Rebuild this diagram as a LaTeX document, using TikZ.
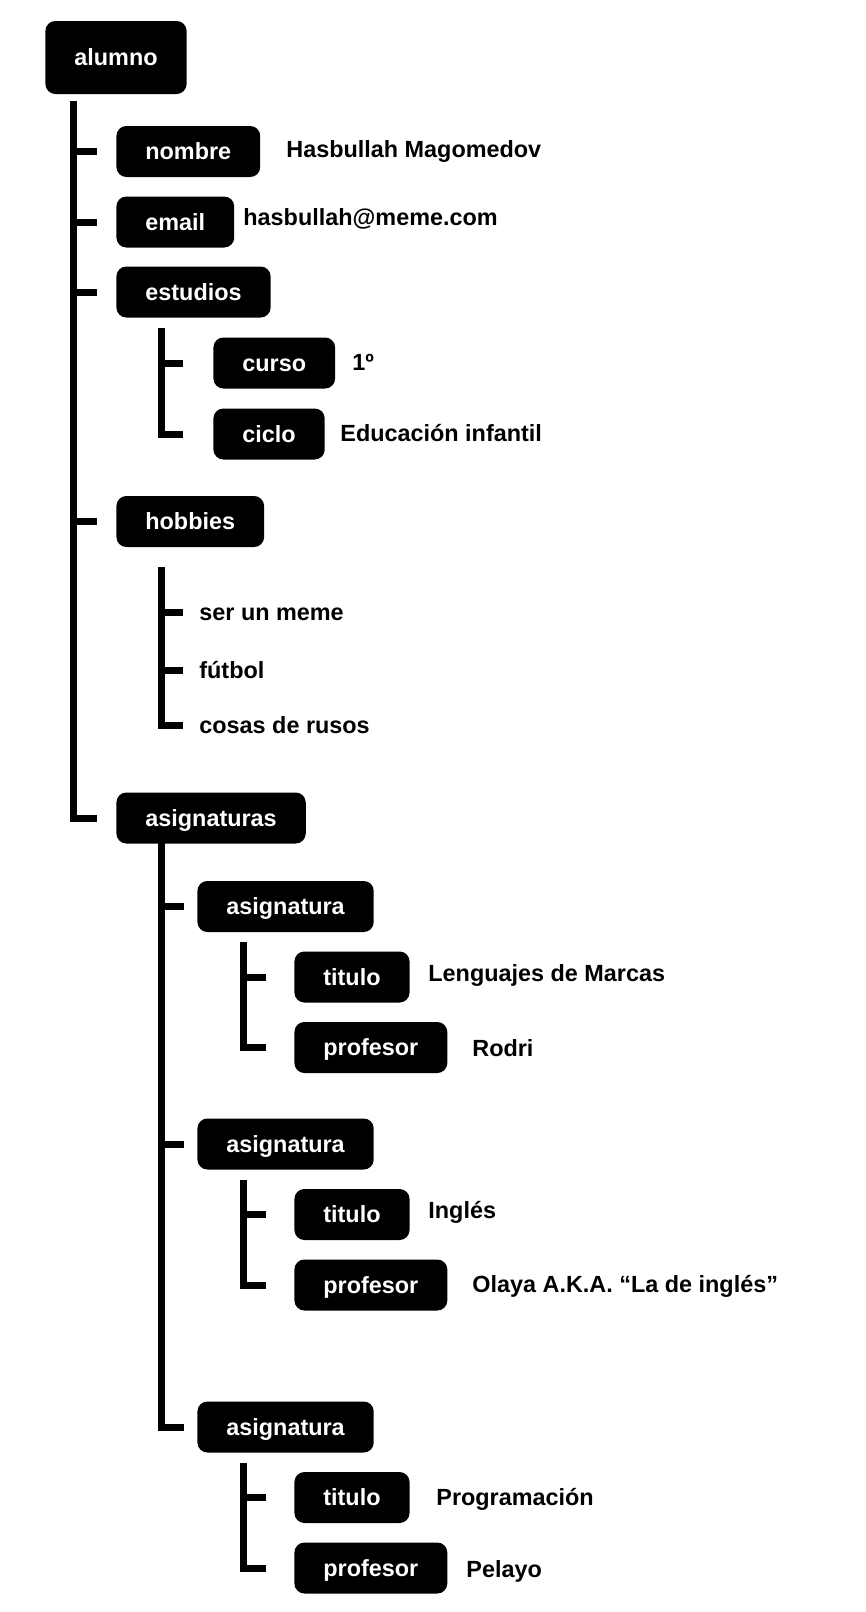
\documentclass[tikz,border=0pt]{standalone}
\usepackage{fontspec}
\setmainfont{Liberation Sans}
\tikzset{
    ET/.style ={rectangle, rounded corners=5pt, fill=black, text=white, font=\bfseries\fontsize{11.7}{14}\selectfont,
        minimum height=25.5pt, inner xsep=14.5pt, inner ysep=0pt, text height=8.4pt, text depth=0pt, anchor=west},
    VL/.style ={font=\bfseries\fontsize{11.7}{14}\selectfont, inner sep=0pt, text height=8.4pt, text depth=0pt, anchor=west},
    RM/.style ={line width=3.5pt, shorten >=#1},
    RM/.default=9.5pt}
\begin{document}
\begin{tikzpicture}[x=0.5pt,y=-0.5pt]
        \useasboundingbox (0,0) rectangle (866,1612);
        \node[ET,minimum height=36.5pt] (1) at(45,57.5){alumno};
        \node[ET] (2) at(116,151.5){nombre};
        \node[ET] (3) at(116,222){email};
        \node[ET] (4) at(116,292){estudios};
        \node[ET] (5) at(213,363){curso};
        \node[ET] (6) at(213,434){ciclo};
        \node[ET] (7) at(116,521.5){hobbies};
        \node[VL] (8) at(199,612){ser un meme};
        \node[VL] (9) at(199,670){fútbol};
        \node[VL] (10) at(199,725){cosas de rusos};
        \node[ET] (11) at(116,818){asignaturas};
        \node[ET] (12) at(197,906.5){asignatura};
        \node[ET] (13) at(294,977){titulo};
        \node[ET] (14) at(294,1047.5){profesor};
        \node[ET] (15) at(197,1144){asignatura};
        \node[ET] (16) at(294,1214.5){titulo};
        \node[ET] (17) at(294,1285){profesor};
        \node[ET] (18) at(197,1427){asignatura};
        \node[ET] (19) at(294,1497.5){titulo};
        \node[ET] (20) at(294,1568){profesor};
        % valores
        \node[VL] (v2) at(286,149){Hasbullah Magomedov};
        \node[VL] (v3) at(243,217){hasbullah@meme.com};
        \node[VL] (v5) at(352,362){1º};
        \node[VL] (v6) at(340,433){Educación infantil};
        \node[VL] (v13) at(428,973){Lenguajes de Marcas};
        \node[VL] (v14) at(472,1048){Rodri};
        \node[VL] (v16) at(428,1210){Inglés};
        \node[VL] (v17) at(472,1284){Olaya A.K.A. “La de inglés”};
        \node[VL] (v19) at(436,1497){Programación};
        \node[VL] (v20) at(466,1569){Pelayo};
        % ramas
        \coordinate (r1) at(73.5,101);
        \coordinate (r4) at(161.5,328);
        \coordinate (r7) at(161.5,567);
        \coordinate (r11) at(161.5,843);
        \coordinate (r12) at(243,942);
        \coordinate (r15) at(243,1180);
        \coordinate (r18) at(243,1463);
        \draw[RM] (r1) |- (2.west);
        \draw[RM] (r1) |- (3.west);
        \draw[RM] (r1) |- (4.west);
        \draw[RM] (r1) |- (7.west);
        \draw[RM] (r1) |- (11.west);
        \draw[RM=15pt] (r4) |- (5.west);
        \draw[RM=15pt] (r4) |- (6.west);
        \draw[RM=8pt] (r7) |- (8.west);
        \draw[RM=8pt] (r7) |- (9.west);
        \draw[RM=8pt] (r7) |- (10.west);
        \draw[RM=6.5pt] (r11) |- (12.west);
        \draw[RM=6.5pt] (r11) |- (15.west);
        \draw[RM=6.5pt] (r11) |- (18.west);
        \draw[RM=14pt] (r12) |- (13.west);
        \draw[RM=14pt] (r12) |- (14.west);
        \draw[RM=14pt] (r15) |- (16.west);
        \draw[RM=14pt] (r15) |- (17.west);
        \draw[RM=14pt] (r18) |- (19.west);
        \draw[RM=14pt] (r18) |- (20.west);
    \end{tikzpicture}
\end{document}
